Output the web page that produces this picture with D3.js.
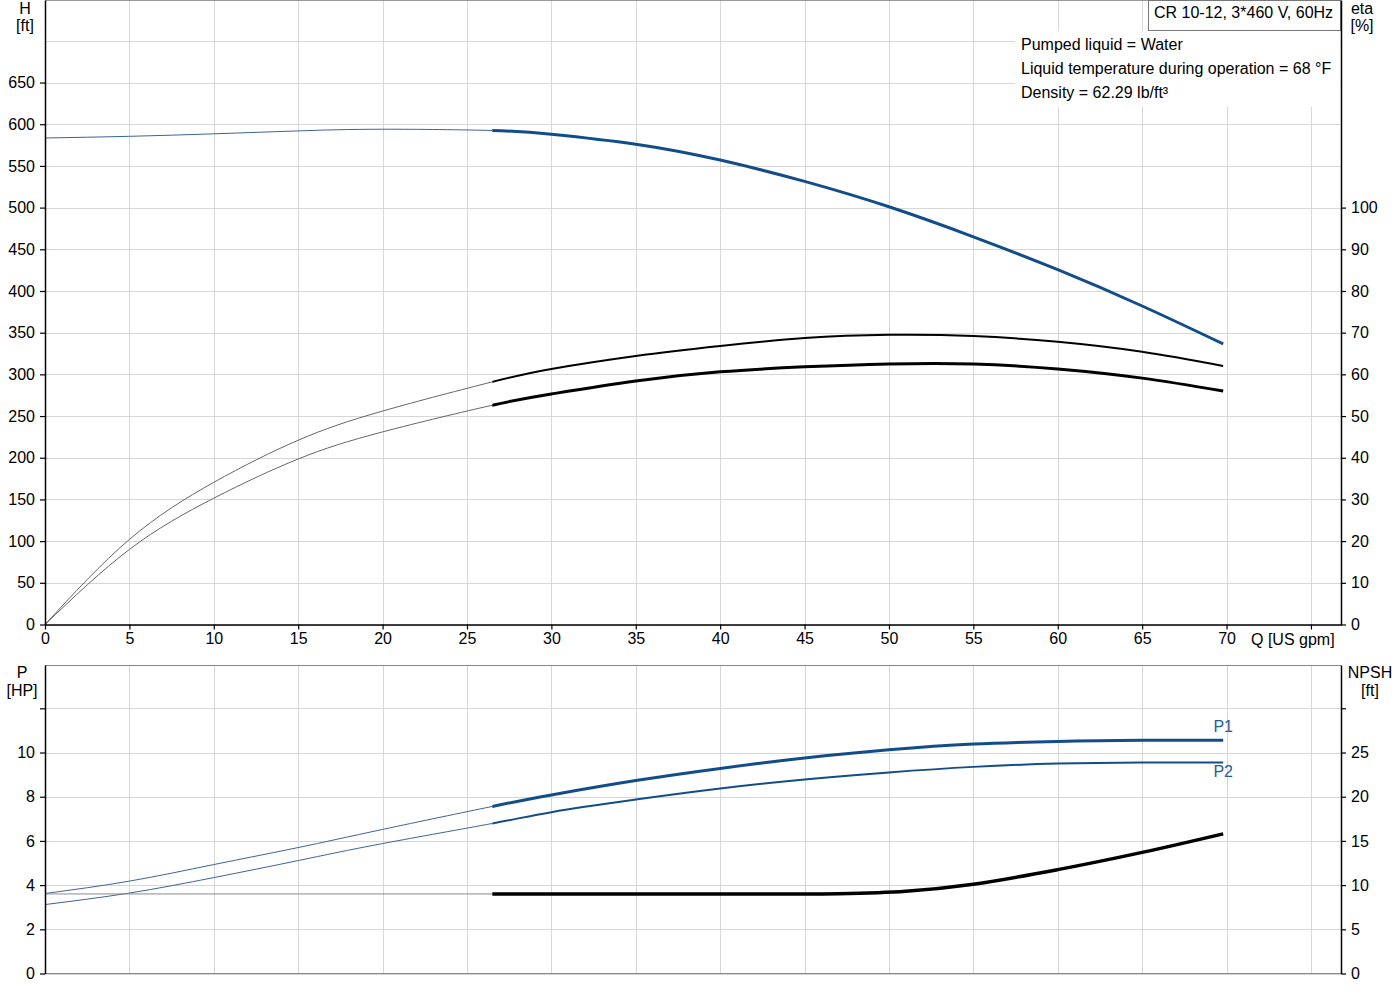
<!DOCTYPE html>
<html>
<head>
<meta charset="utf-8">
<script src="https://cdn.jsdelivr.net/npm/d3@7"></script>
<style>
body { margin: 0; background: #fff; }
text { font-family: "Liberation Sans", Arial, sans-serif; font-size: 16px; fill: #000; }
</style>
</head>
<body>
<svg width="1400" height="1000"></svg>
<script>
// flow points (US gpm) and the curves
var flow = [0, 5, 10, 15, 20, 26.5, 30, 35, 40, 45, 50, 55, 60, 65, 69.8]
var head = [583.5, 585.5, 588.5, 592, 594, 592.5, 588, 576, 557, 531.5, 501, 465, 425.5, 382, 336.5]
var etaPump = [0, 20.4, 34.1, 44.2, 51.2, 58.2, 61.3, 64.4, 66.8, 68.7, 69.5, 69.2, 67.8, 65.4, 62]
var etaTotal = [0, 18, 30.3, 39.7, 46.2, 52.6, 55.3, 58.4, 60.6, 61.8, 62.5, 62.5, 61.3, 59.1, 56]
var p1 = [3.62, 4.18, 4.93, 5.7, 6.52, 7.56, 8.08, 8.73, 9.28, 9.75, 10.12, 10.38, 10.5, 10.56, 10.55]
var p2 = [3.12, 3.64, 4.34, 5.11, 5.88, 6.79, 7.3, 7.87, 8.37, 8.78, 9.1, 9.35, 9.5, 9.55, 9.55]
var npshFlow = [0, 10, 20, 26.5, 35, 42, 47, 51, 55, 60, 65, 69.8]
var npsh = [9, 9, 9, 9, 9, 9, 9.02, 9.3, 10.1, 11.75, 13.7, 15.8]
var dutyStart = 26.5

var qTicks = d3.range(0, 80, 5)
var hTicks = d3.range(0, 700, 50)
var hGrid = d3.range(0, 750, 50)
var etaTicks = d3.range(0, 110, 10)
var pTicks = [0, 2, 4, 6, 8, 10, 12]
var npshTicks = [0, 5, 10, 15, 20, 25, 30]
var title = "CR 10-12, 3*460 V, 60Hz"
var infoLines = ["Pumped liquid = Water", "Liquid temperature during operation = 68 °F", "Density = 62.29 lb/ft³"]

var blue = "#124d8a"
var gridColor = "#d6d6d6"

var svg = d3.select("svg")

var x = d3.scaleLinear().domain([0, 76.78]).range([45, 1341])
var yH = d3.scaleLinear().domain([0, 749]).range([624.5, 0])
var yEta = d3.scaleLinear().domain([0, 149.8]).range([624.5, 0])
var yP = d3.scaleLinear().domain([0, 13.96]).range([973.5, 665])
var yN = d3.scaleLinear().domain([0, 34.9]).range([973.5, 665])

// clip regions: outside / inside the duty range
var defs = svg.append("defs")
defs.append("clipPath").attr("id", "thin").append("rect")
  .attr("x", 0).attr("y", 0).attr("width", x(dutyStart)).attr("height", 1000)
defs.append("clipPath").attr("id", "thick").append("rect")
  .attr("x", x(dutyStart)).attr("y", 0).attr("width", 1400 - x(dutyStart)).attr("height", 1000)

// grid
var grid = svg.append("g").attr("stroke", gridColor).attr("stroke-width", 1)
grid.selectAll(".vt").data(qTicks).enter().append("line")
  .attr("x1", d => Math.round(x(d)) + 0.5).attr("x2", d => Math.round(x(d)) + 0.5)
  .attr("y1", 0).attr("y2", 624)
grid.selectAll(".ht").data(hGrid).enter().append("line")
  .attr("x1", 45).attr("x2", 1341)
  .attr("y1", d => Math.round(yH(d)) + 0.5).attr("y2", d => Math.round(yH(d)) + 0.5)
grid.selectAll(".vb").data(qTicks).enter().append("line")
  .attr("x1", d => Math.round(x(d)) + 0.5).attr("x2", d => Math.round(x(d)) + 0.5)
  .attr("y1", 665).attr("y2", 973)
grid.selectAll(".hb").data(pTicks).enter().append("line")
  .attr("x1", 45).attr("x2", 1341)
  .attr("y1", d => Math.round(yP(d)) + 0.5).attr("y2", d => Math.round(yP(d)) + 0.5)

// borders
svg.append("line").attr("x1", 45).attr("x2", 1341).attr("y1", 0.5).attr("y2", 0.5).attr("stroke", "#999")
svg.append("line").attr("x1", 45).attr("x2", 1341).attr("y1", 665.5).attr("y2", 665.5).attr("stroke", "#888")
svg.append("line").attr("x1", 45).attr("x2", 1341).attr("y1", 973.5).attr("y2", 973.5).attr("stroke", "#888")

// info block
svg.append("rect").attr("x", 1015).attr("y", 31).attr("width", 325).attr("height", 76).attr("fill", "#fff")
svg.selectAll(".info").data(infoLines).enter().append("text")
  .attr("x", 1021).attr("y", (d, i) => 50 + i * 24).text(d => d)
svg.append("rect").attr("x", 1148.5).attr("y", 0.5).attr("width", 192).attr("height", 30)
  .attr("fill", "#fff").attr("stroke", "#777")
svg.append("text").attr("x", 1154).attr("y", 18).text(title)

// curves: thin before the duty range, thick inside it
function drawCurve(qs, vs, ys, color, thinColor, width, curve) {
  var pts = qs.map((q, i) => [q, vs[i]])
  var line = d3.line().x(d => x(d[0])).y(d => ys(d[1])).curve(curve || d3.curveNatural)
  svg.append("path").attr("d", line(pts)).attr("clip-path", "url(#thin)")
    .attr("fill", "none").attr("stroke", thinColor).attr("stroke-width", 1)
  svg.append("path").attr("d", line(pts)).attr("clip-path", "url(#thick)")
    .attr("fill", "none").attr("stroke", color).attr("stroke-width", width)
}
drawCurve(flow, head, yH, blue, "#3d6496", 3)
drawCurve(flow, etaPump, yEta, "#000", "#666", 2)
drawCurve(flow, etaTotal, yEta, "#000", "#666", 3)
drawCurve(flow, p1, yP, blue, "#3d6496", 3)
drawCurve(flow, p2, yP, blue, "#3d6496", 2)
drawCurve(npshFlow, npsh, yN, "#000", "#888", 3.5, d3.curveCatmullRom.alpha(0.5))

var last = flow.length - 1
svg.append("text").attr("x", x(flow[last])).attr("y", yP(p1[last]) - 8)
  .attr("text-anchor", "middle").style("fill", "#1f5b9e").text("P1")
svg.append("text").attr("x", x(flow[last])).attr("y", yP(p2[last]) + 15)
  .attr("text-anchor", "middle").style("fill", "#1f5b9e").text("P2")

// axes
function styleAxis(g) {
  g.selectAll("path").attr("stroke", "#000").attr("stroke-width", 1.5)
  g.selectAll("line").attr("stroke", "#000").attr("stroke-width", 1.2)
  g.selectAll("text").attr("font-size", null).attr("font-family", null).style("fill", "#000")
}
svg.append("g").attr("transform", "translate(45,0)")
  .call(d3.axisLeft(yH).tickValues(hTicks).tickSizeInner(5).tickSizeOuter(0).tickPadding(5))
  .call(styleAxis)
svg.append("g").attr("transform", "translate(1341,0)")
  .call(d3.axisRight(yEta).tickValues(etaTicks).tickSizeInner(5).tickSizeOuter(0).tickPadding(5))
  .call(styleAxis)
svg.append("g").attr("transform", "translate(0,624.5)")
  .call(d3.axisBottom(x).tickValues(qTicks).tickFormat(d => d < 75 ? d : "").tickSizeInner(5).tickSizeOuter(0).tickPadding(3))
  .call(styleAxis)
svg.append("g").attr("transform", "translate(45,0)")
  .call(d3.axisLeft(yP).tickValues(pTicks).tickFormat(d => d < 12 ? d : "").tickSizeInner(5).tickSizeOuter(0).tickPadding(5))
  .call(styleAxis)
svg.append("g").attr("transform", "translate(1341,0)")
  .call(d3.axisRight(yN).tickValues(npshTicks).tickFormat(d => d < 30 ? d : "").tickSizeInner(5).tickSizeOuter(0).tickPadding(5))
  .call(styleAxis)

// axis titles
var titles = [
  { t: "H", x: 25, y: 14, a: "middle" }, { t: "[ft]", x: 25, y: 31, a: "middle" },
  { t: "eta", x: 1362, y: 14, a: "middle" }, { t: "[%]", x: 1362, y: 31, a: "middle" },
  { t: "P", x: 22, y: 678, a: "middle" }, { t: "[HP]", x: 22, y: 696, a: "middle" },
  { t: "NPSH", x: 1370, y: 678, a: "middle" }, { t: "[ft]", x: 1370, y: 696, a: "middle" },
  { t: "Q [US gpm]", x: 1251, y: 645, a: "start" }
]
svg.selectAll(".ttl").data(titles).enter().append("text")
  .attr("x", d => d.x).attr("y", d => d.y).attr("text-anchor", d => d.a).text(d => d.t)
</script>
</body>
</html>
